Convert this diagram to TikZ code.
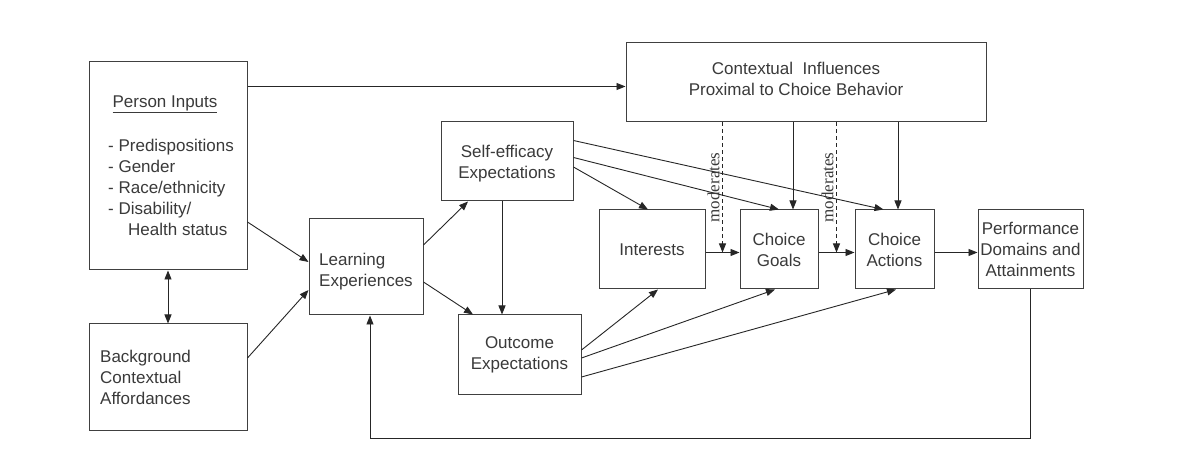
\documentclass[tikz,border=0pt]{standalone}
\usepackage{fontspec}
\setmainfont{Liberation Sans}
\newfontfamily\modfont{Liberation Serif}
\usetikzlibrary{arrows.meta,calc}
\definecolor{ink}{HTML}{404040}
\definecolor{txtc}{HTML}{3a3a3a}
\begin{document}
\begin{tikzpicture}[x=1pt,y=-1pt,
  box/.style={draw=ink,line width=1pt,inner sep=0pt,fill=white,text=txtc,align=center,
    font=\fontsize{17}{21}\selectfont},
  txt/.style={inner sep=0pt,text=txtc,font=\fontsize{17}{21}\selectfont},
  arr/.style={draw=black!85,line width=0.9pt,-{Triangle[length=9pt,width=7pt]}},
  darr/.style={arr,dash pattern=on 4pt off 3pt},
  modlbl/.style={inner sep=0pt,rotate=90,text=txtc,font=\modfont\fontsize{17}{20}\selectfont}]
\useasboundingbox[fill=white] (0,0) rectangle (1178,470);

% boxes
\node[box,minimum width=158,minimum height=208] (person) at (168,166) {};
\node[box,minimum width=158,minimum height=106] (back) at (168,377) {};
\node[box,minimum width=114,minimum height=96] (learn) at (366,267) {};
\node[box,minimum width=132,minimum height=79] (self) at (507,161.5) {};
\node[txt,align=center] (stxt) at (507,163.5) {Self-efficacy\\Expectations};
\node[box,minimum width=123,minimum height=79] (outc) at (519.5,354.5) {Outcome\\Expectations};
\node[box,minimum width=106,minimum height=79] (inter) at (652,249.5) {Interests};
\node[box,minimum width=78,minimum height=79] (goals) at (779,249.5) {Choice\\Goals};
\node[box,minimum width=79,minimum height=79] (actions) at (894.5,249.5) {Choice\\Actions};
\node[box,minimum width=105,minimum height=79] (perf) at (1030.5,249.5) {Performance\\Domains and\\Attainments};
\node[box,minimum width=360,minimum height=79] (ctx) at (806,82.5) {};
\node[txt,align=center] (ctxt) at (796,79) {Contextual\ \ Influences\\Proximal to Choice Behavior};

% texts inside left-aligned boxes
\node[txt] (ptitle) at (165,104) {\underline{Person Inputs}};
\node[txt,anchor=west,align=left] (plist) at (108,187) {- Predispositions\\- Gender\\- Race/ethnicity\\- Disability/\\\hspace*{20pt}Health status};
\node[txt,anchor=west,align=left] (btxt) at (100,377) {Background\\Contextual\\Affordances};
\node[txt,anchor=west,align=left] (ltxt) at (319,272) {Learning\\Experiences};

% connectors
\draw[arr] ($(person.north east)+(0,25)$) coordinate (p1) -- (p1 -| ctx.west);
\draw[arr] ($(person.east)+(0,56)$) -- ($(learn.west)+(0,-5)$);
\draw[arr] ($(back.east)+(0,-19)$) -- ($(learn.west)+(0,23)$);
\draw[arr,{Triangle[length=9pt,width=7pt]}-{Triangle[length=9pt,width=7pt]}] (person.south) -- (back.north);
\draw[arr] ($(learn.east)+(0,-22)$) -- ($(self.south)+(-39,0)$);
\draw[arr] ($(learn.east)+(0,15)$) -- ($(outc.north)+(-46.5,0)$);
\draw[arr] ($(self.south)+(-5,0)$) coordinate (s1) -- (s1 |- outc.north);
\draw[arr] ($(self.east)+(0,5.5)$) -- ($(inter.north)+(-4,0)$);
\draw[arr] ($(self.east)+(0,-4)$) -- ($(goals.north)+(0,0)$);
\draw[arr] ($(self.east)+(0,-21)$) -- ($(actions.north)+(-11,0)$);
\draw[arr] ($(outc.east)+(0,-4.5)$) -- ($(inter.south)+(6,0)$);
\draw[arr] ($(outc.east)+(0,3.5)$) -- ($(goals.south)+(-4,0)$);
\draw[arr] ($(outc.east)+(0,22.5)$) -- ($(actions.south)+(1.5,0)$);
\draw[arr] ($(inter.east)+(0,3)$) -- ($(goals.west)+(0,3)$);
\draw[arr] ($(goals.east)+(0,3)$) -- ($(actions.west)+(0,3)$);
\draw[arr] ($(actions.east)+(0,3)$) -- ($(perf.west)+(0,3)$);
\draw[arr] ($(goals.north)+(14,0)$) coordinate (g1) (g1 |- ctx.south) -- (g1);
\draw[arr] ($(actions.north)+(3.5,0)$) coordinate (a1) (a1 |- ctx.south) -- (a1);
\coordinate (m1) at ($($(inter.east)!0.5!(goals.west)$)+(0,3)$);
\coordinate (m2) at ($($(goals.east)!0.5!(actions.west)$)+(0,3)$);
\draw[darr] (m1 |- ctx.south) -- (m1);
\draw[darr] (m2 |- ctx.south) -- (m2);
\node[modlbl] (mod1) at ($(m1)+(-9,-65)$) {moderates};
\node[modlbl] (mod2) at ($(m2)+(-9,-65)$) {moderates};
\draw[arr] (perf.south) -- ++(0,149) -| ($(learn.south)+(4,0)$);
\end{tikzpicture}
\end{document}
